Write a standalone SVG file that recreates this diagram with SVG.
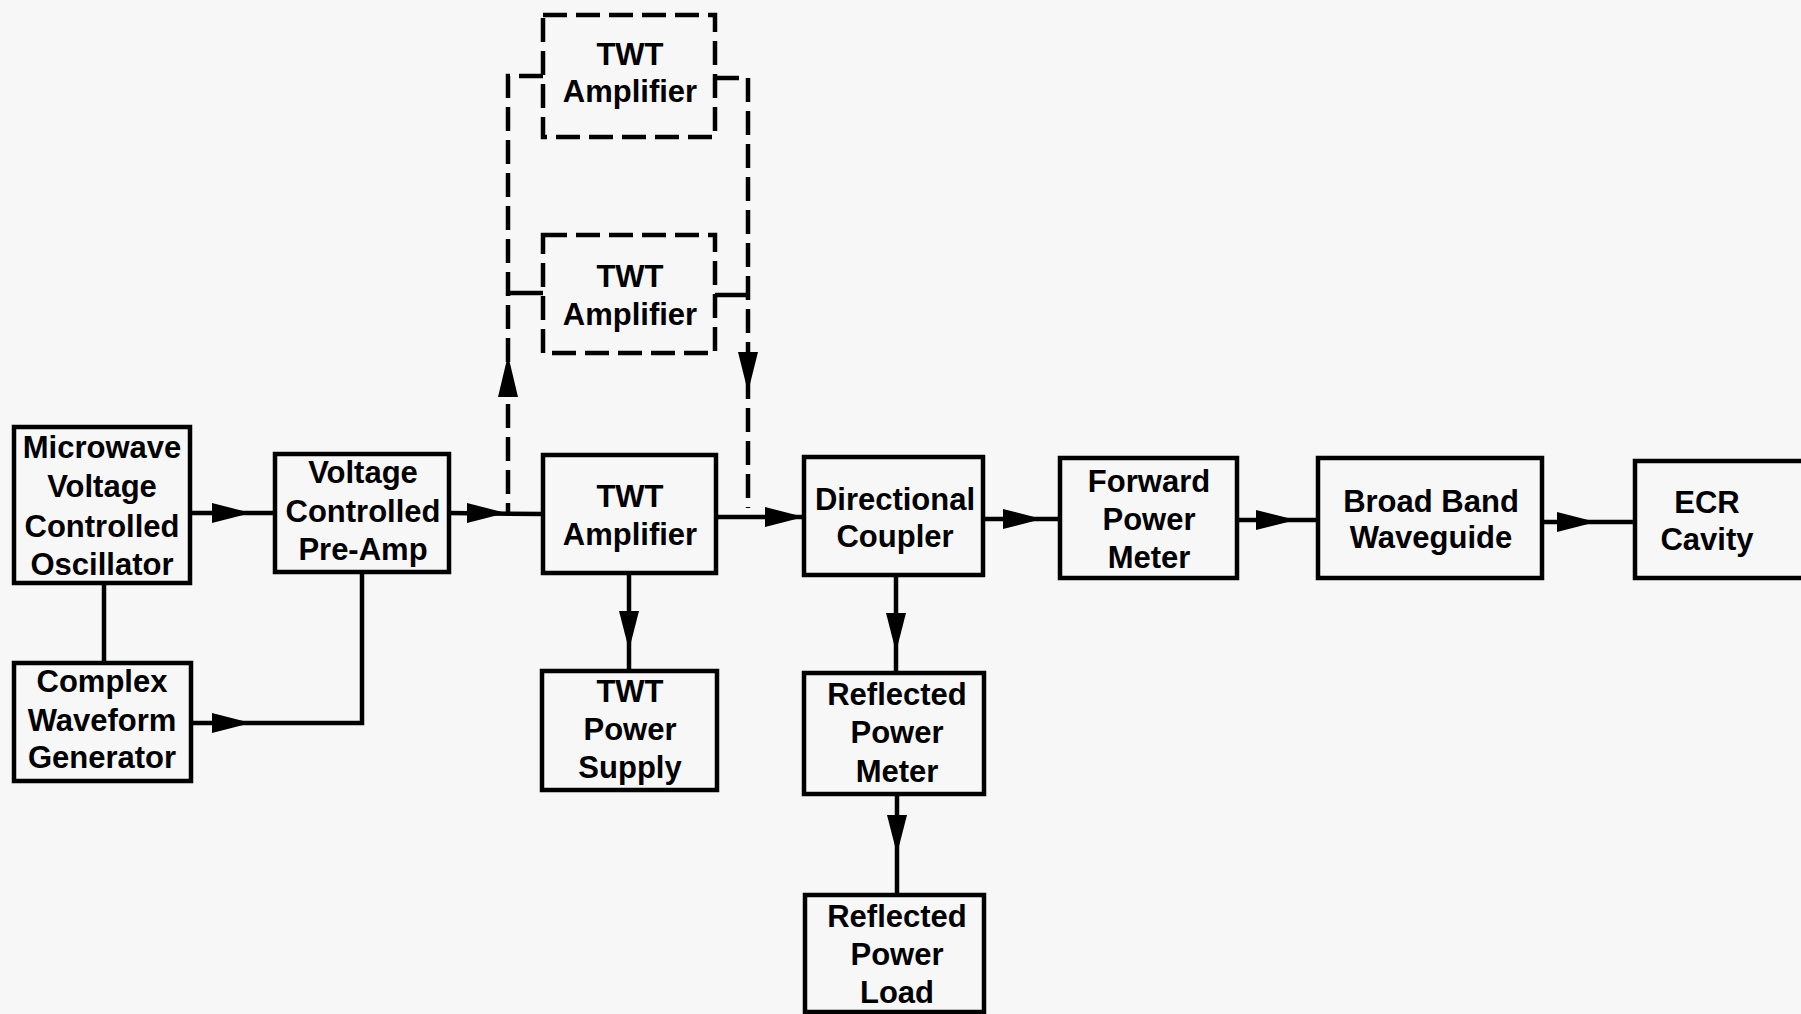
<svg xmlns="http://www.w3.org/2000/svg" width="1801" height="1014" viewBox="0 0 1801 1014">
<style>
.box{fill:none;stroke:#000;stroke-width:4.5}
.dbox{fill:none;stroke:#000;stroke-width:4.5;stroke-dasharray:24 9}
.ln{fill:none;stroke:#000;stroke-width:4.5}
.dl{fill:none;stroke:#000;stroke-width:4.5;stroke-dasharray:24 9}
.ah{fill:#000;stroke:none}
text{font-family:"Liberation Sans",Arial,Helvetica,sans-serif;font-weight:bold;font-size:31px;fill:#000;text-anchor:middle}
</style>
<rect width="1801" height="1014" fill="#f7f7f7"/>
<g id="connectors">
<line class="ln" x1="190" y1="513" x2="275" y2="513"/>
<polygon class="ah" points="212,503 251,513 212,523"/>
<line class="ln" x1="104" y1="583" x2="104" y2="663"/>
<polyline class="ln" points="191,723 362,723 362,572"/>
<polygon class="ah" points="212,713 251,723 212,733"/>
<line class="ln" x1="449" y1="513" x2="543" y2="514"/>
<polygon class="ah" points="467,503 506,513 467,523"/>
<line class="ln" x1="716" y1="517" x2="804" y2="517"/>
<polygon class="ah" points="765,507 804,517 765,527"/>
<line class="ln" x1="983" y1="519" x2="1060" y2="519"/>
<polygon class="ah" points="1003,509 1042,519 1003,529"/>
<line class="ln" x1="1237" y1="520" x2="1318" y2="520"/>
<polygon class="ah" points="1256,510 1296,520 1256,530"/>
<line class="ln" x1="1542" y1="522" x2="1635" y2="522"/>
<polygon class="ah" points="1557,512 1596,522 1557,532"/>
<line class="ln" x1="629" y1="573" x2="629" y2="671"/>
<polygon class="ah" points="619,611 639,611 629,650"/>
<line class="ln" x1="896" y1="575" x2="896" y2="673"/>
<polygon class="ah" points="886,613 906,613 896,652"/>
<line class="ln" x1="897" y1="794" x2="897" y2="895"/>
<polygon class="ah" points="887,815 907,815 897,854"/>
<path class="dl" d="M543,76 H508 V513"/>
<polygon class="ah" points="508,355 498,397 518,397"/>
<path class="dl" d="M715,78 H748 V508"/>
<polygon class="ah" points="738,352 758,352 748,392"/>
<line class="ln" x1="508" y1="293" x2="543" y2="293"/>
<line class="ln" x1="715" y1="295" x2="748" y2="295"/>
</g>
<g id="mvco">
<rect class="box" x="14" y="427" width="176" height="156"/>
<text x="102" y="458">Microwave</text>
<text x="102" y="497">Voltage</text>
<text x="102" y="537">Controlled</text>
<text x="102" y="575">Oscillator</text>
</g>
<g id="vcpa">
<rect class="box" x="275" y="454" width="174" height="118"/>
<text x="363" y="483">Voltage</text>
<text x="363" y="522">Controlled</text>
<text x="363" y="560">Pre-Amp</text>
</g>
<g id="cwg">
<rect class="box" x="14" y="663" width="177" height="118"/>
<text x="102" y="692">Complex</text>
<text x="102" y="731">Waveform</text>
<text x="102" y="768">Generator</text>
</g>
<g id="twt-opt1">
<rect class="dbox" x="543" y="15" width="172" height="122"/>
<text x="630" y="65">TWT</text>
<text x="630" y="102">Amplifier</text>
</g>
<g id="twt-opt2">
<rect class="dbox" x="543" y="235" width="172" height="118"/>
<text x="630" y="287">TWT</text>
<text x="630" y="325">Amplifier</text>
</g>
<g id="twt">
<rect class="box" x="543" y="455" width="173" height="118"/>
<text x="630" y="507">TWT</text>
<text x="630" y="545">Amplifier</text>
</g>
<g id="twtps">
<rect class="box" x="542" y="671" width="175" height="119"/>
<text x="630" y="702">TWT</text>
<text x="630" y="740">Power</text>
<text x="630" y="778">Supply</text>
</g>
<g id="dc">
<rect class="box" x="804" y="457" width="179" height="118"/>
<text x="895" y="510">Directional</text>
<text x="895" y="547">Coupler</text>
</g>
<g id="rpm">
<rect class="box" x="804" y="673" width="180" height="121"/>
<text x="897" y="705">Reflected</text>
<text x="897" y="743">Power</text>
<text x="897" y="782">Meter</text>
</g>
<g id="rpl">
<rect class="box" x="805" y="895" width="179" height="117"/>
<text x="897" y="927">Reflected</text>
<text x="897" y="965">Power</text>
<text x="897" y="1003">Load</text>
</g>
<g id="fpm">
<rect class="box" x="1060" y="458" width="177" height="120"/>
<text x="1149" y="492">Forward</text>
<text x="1149" y="530">Power</text>
<text x="1149" y="568">Meter</text>
</g>
<g id="bbw">
<rect class="box" x="1318" y="458" width="224" height="120"/>
<text x="1431" y="512">Broad Band</text>
<text x="1431" y="548">Waveguide</text>
</g>
<g id="ecr">
<rect class="box" x="1635" y="461" width="200" height="117"/>
<text x="1707" y="513">ECR</text>
<text x="1707" y="550">Cavity</text>
</g>
</svg>
